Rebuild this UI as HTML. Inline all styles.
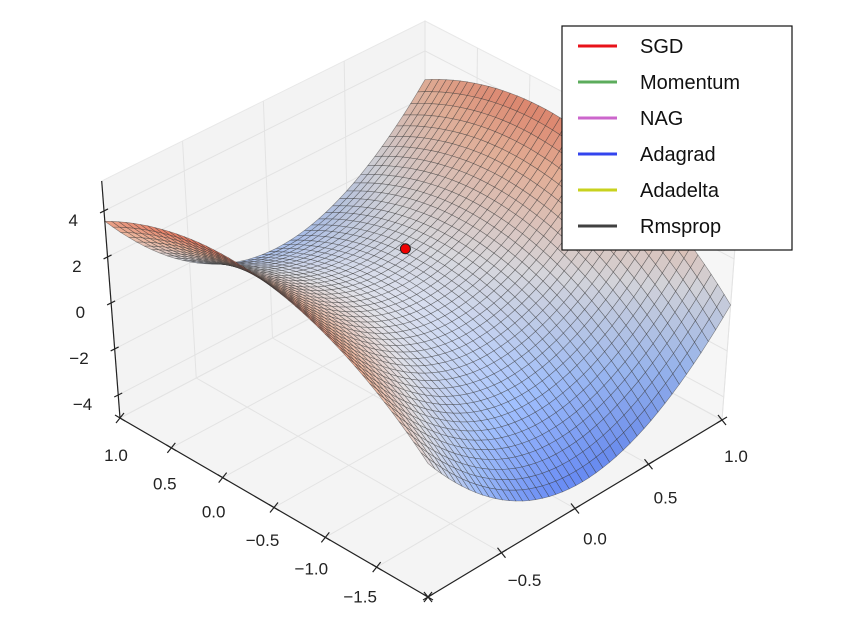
<!DOCTYPE html>
<html><head><meta charset="utf-8"><style>
html,body{margin:0;padding:0;background:#fff;}
svg{display:block;font-family:"Liberation Sans","DejaVu Sans",sans-serif;}
</style></head>
<body>
<svg id="chart" width="859" height="644" viewBox="0 0 859 644" xmlns="http://www.w3.org/2000/svg">
<g id="panes"></g>
<g id="grid"></g>
<g id="surface"></g>
<g id="axes"></g>
<g id="marks"></g>
<g id="legend"></g>
</svg>
<script>
// ---- data ----
const uTicks = [1.0, 0.5, 0.0, -0.5, -1.0, -1.5, -2.0];
const uTickLabels = ["1.0", "0.5", "0.0", "\u22120.5", "\u22121.0", "\u22121.5", ""];
const vTicks = [1.0, 0.5, 0.0, -0.5, -1.0];
const vTickLabels = ["1.0", "0.5", "0.0", "\u22120.5", ""];
const zTicks = [4, 2, 0, -2, -4];
const zTickLabels = ["4", "2", "0", "\u22122", "\u22124"];
const uRange = [-2, 1];
const vRange = [-1, 1];
const zRange = [-5, 5.3];
// surface z = cV2*v^2 + cV1*v + cU0 + cU1*u + cU2*u^2
const surfaceCoef = [4.4, -0.4, 0.167, -0.25, -1.167];
const optimizerNames = ["SGD", "Momentum", "NAG", "Adagrad", "Adadelta", "Rmsprop"];
const optimizerColors = ["#e8121a", "#5cac5c", "#cc66cc", "#3344ee", "#c8d21e", "#404040"];
const optimizerU = [0.05];
const optimizerV = [0.25];

// ---- projection ----
const NS = "http://www.w3.org/2000/svg";
const F = [428, 597], L = [120, 418], R = [722, 420], B = [425, 258];
const HEIGHT = 237, CX = 425, SLANT = 0.06;
function base(u, v) {
  const a = (u - uRange[0]) / (uRange[1] - uRange[0]);
  const b = (v - vRange[0]) / (vRange[1] - vRange[0]);
  const w = [(1 - a) * (1 - b), a * (1 - b), (1 - a) * b, a * b];
  return [F[0]*w[0] + L[0]*w[1] + R[0]*w[2] + B[0]*w[3],
          F[1]*w[0] + L[1]*w[1] + R[1]*w[2] + B[1]*w[3]];
}
function proj(u, v, z) {
  const p = base(u, v);
  const h = (z - zRange[0]) / (zRange[1] - zRange[0]);
  return [p[0] + (p[0] - CX) * SLANT * h, p[1] - h * HEIGHT];
}
function nearness(u, v, z) {
  const p = base(u, v);
  return 1.73 * p[1] + 13.3 * z;
}
function fz(u, v) {
  const c = surfaceCoef;
  return c[0]*v*v + c[1]*v + c[2] + c[3]*u + c[4]*u*u;
}
function mk(tag, attrs, parent) {
  const e = document.createElementNS(NS, tag);
  for (const k in attrs) e.setAttribute(k, attrs[k]);
  parent.appendChild(e);
  return e;
}
function pts(arr) { return arr.map(p => p[0].toFixed(1) + "," + p[1].toFixed(1)).join(" "); }

// ---- panes ----
const panes = document.getElementById("panes");
const z0 = zRange[0], z1 = zRange[1];
const floor = mk("polygon", {points: pts([proj(-2,-1,z0), proj(1,-1,z0), proj(1,1,z0), proj(-2,1,z0)]), fill: "#f4f4f4", stroke: "#e8e8e8"}, panes);


const paneL = mk("polygon", {points: pts([proj(1,-1,z0), proj(1,1,z0), proj(1,1,z1), proj(1,-1,z1)]), fill: "#f3f3f3", stroke: "#e8e8e8"}, panes);


const paneR = mk("polygon", {points: pts([proj(1,1,z0), proj(-2,1,z0), proj(-2,1,z1), proj(1,1,z1)]), fill: "#f6f6f6", stroke: "#e8e8e8"}, panes);



// ---- grid lines ----
const grid = document.getElementById("grid");
function gline(p, q) {
  const l = mk("line", {x1: p[0], y1: p[1], x2: q[0], y2: q[1], stroke: "#e3e3e3", "stroke-width": 1}, grid);
  
  
}
uTicks.forEach(u => { gline(proj(u,-1,z0), proj(u,1,z0)); gline(proj(u,1,z0), proj(u,1,z1)); });
vTicks.forEach(v => { gline(proj(-2,v,z0), proj(1,v,z0)); gline(proj(1,v,z0), proj(1,v,z1)); });
zTicks.forEach(z => { gline(proj(1,-1,z), proj(1,1,z)); gline(proj(1,1,z), proj(-2,1,z)); });

// ---- surface ----
const surf = document.getElementById("surface");
const NU = 44, NV = 44;
let zmin = Infinity, zmax = -Infinity;
for (let i = 0; i <= NU; i++) for (let j = 0; j <= NV; j++) {
  const u = uRange[0] + (uRange[1]-uRange[0]) * i / NU, v = vRange[0] + (vRange[1]-vRange[0]) * j / NV;
  const z = fz(u, v); zmin = Math.min(zmin, z); zmax = Math.max(zmax, z);
}
const cmapStops = [[0, [100, 135, 240]], [0.25, [160, 190, 250]], [0.5, [226, 226, 232]], [0.75, [246, 188, 162]], [1, [238, 118, 92]]];
function cmap(t) {
  t = Math.max(0, Math.min(1, t));
  for (let k = 1; k < cmapStops.length; k++) {
    if (t <= cmapStops[k][0]) {
      const a = cmapStops[k-1], b = cmapStops[k];
      const f = (t - a[0]) / (b[0] - a[0]);
      return a[1].map((c, m) => c + (b[1][m] - c) * f);
    }
  }
  return cmapStops[cmapStops.length-1][1];
}
const faces = [];
for (let i = 0; i < NU; i++) for (let j = 0; j < NV; j++) {
  const ua = uRange[0] + (uRange[1]-uRange[0]) * i / NU, ub = uRange[0] + (uRange[1]-uRange[0]) * (i+1) / NU;
  const va = vRange[0] + (vRange[1]-vRange[0]) * j / NV, vb = vRange[0] + (vRange[1]-vRange[0]) * (j+1) / NV;
  const c = [[ua,va],[ub,va],[ub,vb],[ua,vb]].map(p => [p[0], p[1], fz(p[0], p[1])]);
  const zc = (c[0][2]+c[1][2]+c[2][2]+c[3][2]) / 4;
  const um = (ua+ub)/2, vm = (va+vb)/2;
  const dzu = (fz(ub, vm) - fz(ua, vm)) / (ub - ua), dzv = (fz(um, vb) - fz(um, va)) / (vb - va);
  const n = [-dzu*0.3, -dzv*0.45, 1]; const nl = Math.hypot(n[0], n[1], n[2]);
  const lt = [-0.5, 0.3, 0.8];
  const shade = 0.92 + 0.1 * ((n[0]*lt[0] + n[1]*lt[1] + n[2]*lt[2]) / nl);
  faces.push({c, zc, d: nearness(um, vm, zc), shade});
}
faces.sort((a, b) => a.d - b.d);
faces.forEach(f => {
  const col = cmap((f.zc - zmin) / (zmax - zmin)).map(x => Math.round(Math.min(255, x * f.shade)));
  const poly = mk("polygon", {points: pts(f.c.map(p => proj(p[0], p[1], p[2]))),
    fill: "rgb(" + col.join(",") + ")", stroke: "rgba(50,50,50,0.55)", "stroke-width": 0.6}, surf);
  
  
});

// ---- axes ----
const axes = document.getElementById("axes");
function aline(p, q, name) {
  const l = mk("line", {x1: p[0], y1: p[1], x2: q[0], y2: q[1], stroke: "#222", "stroke-width": 1.2}, axes);
  
  
}
function atext(p, s, anchor, name) {
  const t = mk("text", {x: p[0], y: p[1], "font-size": 17, fill: "#222", "text-anchor": anchor}, axes);
  t.textContent = s;
  
  
}
aline(proj(1,-1,z0), proj(-2,-1,z0), "x-axis-line");
aline(proj(-2,-1,z0), proj(-2,1,z0), "y-axis-line");
aline(proj(1,-1,z0), proj(1,-1,z1), "z-axis-line");
uTicks.forEach((u, k) => {
  const p = proj(u, -1, z0);
  aline([p[0]-5, p[1]-3], [p[0]+5, p[1]+3], "x-tick");
  aline([p[0]-4, p[1]+5], [p[0]+4, p[1]-5], "x-tick");
  if (uTickLabels[k]) atext([p[0]-4 - k*2.5, p[1]+43 - k*1.5], uTickLabels[k], "middle", "x-tick-label");
});
vTicks.forEach((v, k) => {
  const p = proj(-2, v, z0);
  aline([p[0]-5, p[1]+3], [p[0]+5, p[1]-3], "y-tick");
  aline([p[0]-4, p[1]-5], [p[0]+4, p[1]+5], "y-tick");
  if (vTickLabels[k]) atext([p[0]+14 + k*3, p[1]+42 - k*3], vTickLabels[k], "middle", "y-tick-label");
});
zTicks.forEach((z, k) => {
  const p = proj(1, -1, z);
  aline([p[0]-4, p[1]+2], [p[0]+4, p[1]-2], "z-tick");
  atext([p[0]-26, p[1]+15], zTickLabels[k], "end", "z-tick-label");
});

// ---- optimizer point ----
const marks = document.getElementById("marks");
optimizerU.forEach((u, k) => {
  const v = optimizerV[k];
  const p = proj(u, v, fz(u, v));
  const c = mk("circle", {cx: p[0], cy: p[1], r: 5, fill: "#ee0000", stroke: "#222", "stroke-width": 1}, marks);
  
  
});

// ---- legend ----
const leg = document.getElementById("legend");
const box = mk("rect", {x: 562, y: 26, width: 230, height: 224, fill: "#fff", stroke: "#111", "stroke-width": 1.2}, leg);


optimizerNames.forEach((nm, k) => {
  const y = 46 + k * 36;
  const ln = mk("line", {x1: 578, y1: y, x2: 617, y2: y, stroke: optimizerColors[k], "stroke-width": 3}, leg);
  
  
  const t = mk("text", {x: 640, y: y + 7, "font-size": 20, fill: "#111"}, leg);
  t.textContent = nm;
  
  
});
</script>
</body></html>
